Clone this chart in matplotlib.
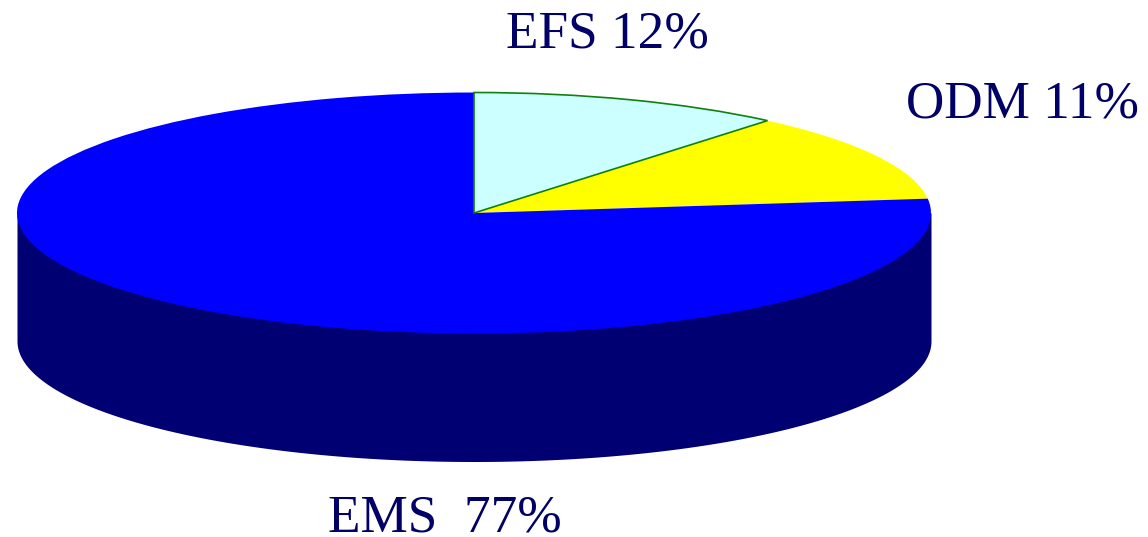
# 3D-looking pie chart: squashed pie on top of a darker side wall
import numpy as np
import matplotlib
matplotlib.use('Agg')
import matplotlib.pyplot as plt

# shares as drawn, clockwise from the top
slice_names = ['EFS', 'ODM', 'EMS']
slice_shares = [11.1, 12.0, 76.9]
slice_colors = ['#CCFFFF', '#FFFF00', '#0000FF']
edge_colors = ['#108010', 'none', 'none']
labels = ['EFS 12%', 'ODM 11%', 'EMS  77%']
label_pos = [(506, 48), (906, 118), (328, 532)]

side_color = '#000073'
text_color = '#000066'

W, H = 1148, 537
CX, CY = 474, 213   # pie centre in pixels
RX, RY = 457, 120.5 # ellipse radii in pixels
DEPTH = 128         # height of the side wall in pixels

fig = plt.figure(figsize=(W / 100, H / 100), dpi=100)
ax = fig.add_axes([0, 0, 1, 1])

# side wall first, so the top covers it; it starts at the centre line so no seam shows
t = np.linspace(np.pi, 2 * np.pi, 200)
ax.fill_between(np.cos(t), 0, np.sin(t) - DEPTH / RY, color=side_color, lw=0)

wedges, _ = ax.pie(slice_shares, colors=slice_colors, startangle=90, counterclock=False,
                   wedgeprops={'linewidth': 0})
# green outline only on the light slice
wedges[0].set_edgecolor(edge_colors[0])
wedges[0].set_linewidth(1.2)
wedges[0].set_zorder(wedges[1].get_zorder() + 1)

# pie() forces an equal aspect, undo it to squash the circle into an ellipse
ax.set_aspect('auto')
ax.set_xlim(-CX / RX, (W - CX) / RX)
ax.set_ylim((CY - H) / RY, CY / RY)
ax.axis('off')

for lab, (px, py) in zip(labels, label_pos):
    ax.text((px - CX) / RX, (CY - py) / RY, lab, family='Liberation Serif', fontsize=38.3,
            color=text_color, ha='left', va='baseline')

fig.savefig('out.png', dpi=100, facecolor='white')
